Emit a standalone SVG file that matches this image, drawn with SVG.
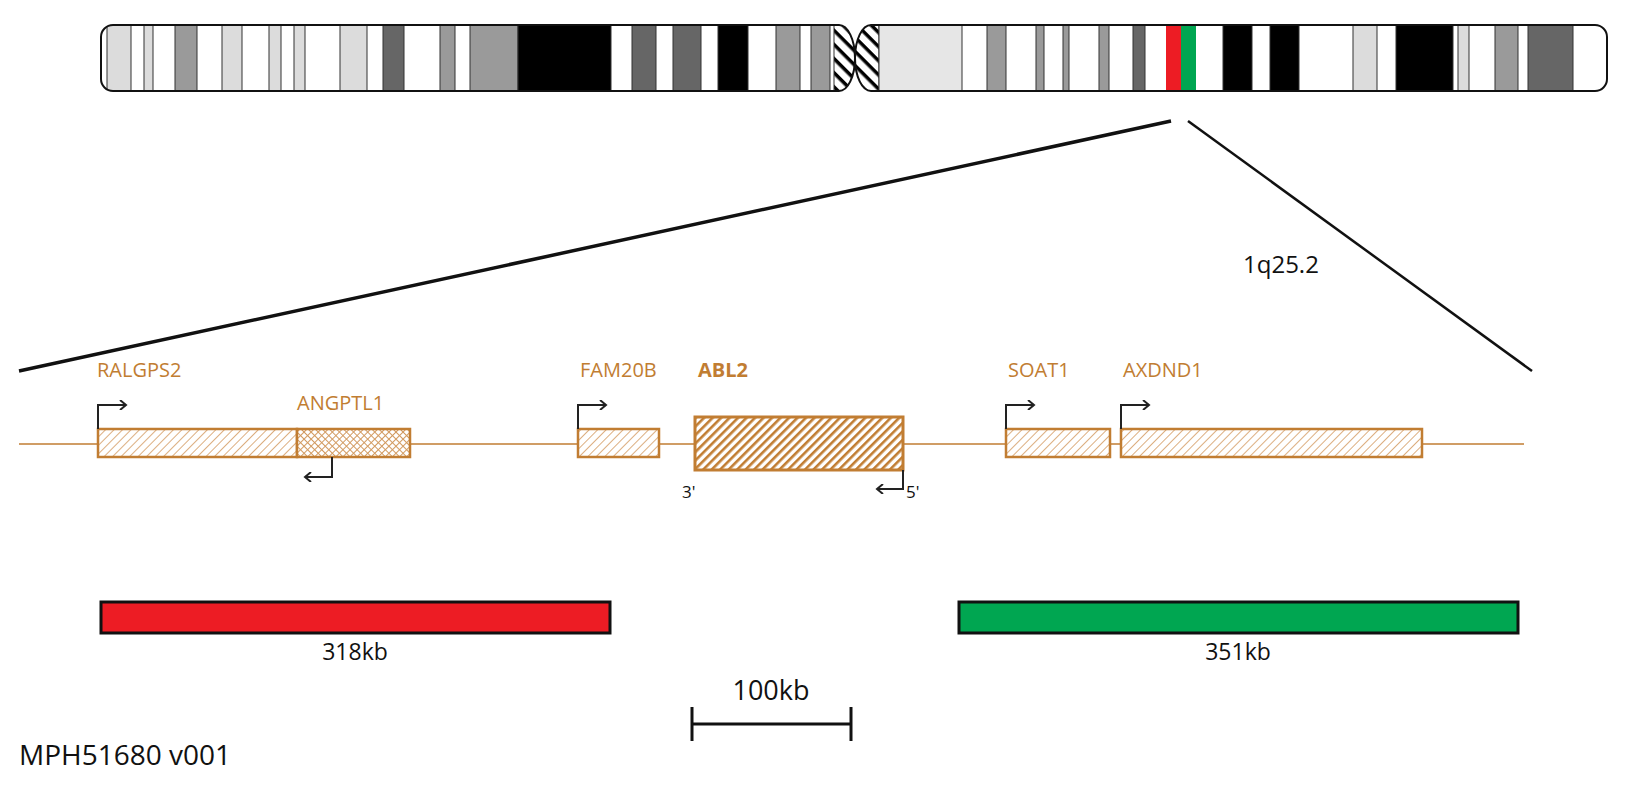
<svg xmlns="http://www.w3.org/2000/svg" width="1632" height="790" viewBox="0 0 1632 790">
<style>
.b{stroke:#333;stroke-width:1}
.W{fill:#fff}.L{fill:#dcdcdc}.VL{fill:#e6e6e6}.G{fill:#9a9a9a}.D{fill:#666}.K{fill:#000}
.gl{font-family:"Open Sans","Noto Sans",sans-serif;font-size:20px;fill:#c17d32}
.t{font-family:"Open Sans","Noto Sans",sans-serif;fill:#111}
.gene{stroke:#c17d32;stroke-width:2.5}
.arr{fill:none;stroke:#222;stroke-width:2}
</style>
<defs>
<clipPath id="pc"><path d="M113,25 H839 A16,33 0 0 1 839,91 H113 A12,12 0 0 1 101,79 V37 A12,12 0 0 1 113,25 Z"/></clipPath>
<clipPath id="qc"><path d="M871,25 H1595 A12,12 0 0 1 1607,37 V79 A12,12 0 0 1 1595,91 H871 A16,33 0 0 1 871,25 Z"/></clipPath>
<pattern id="cen" width="10" height="10" patternUnits="userSpaceOnUse" patternTransform="rotate(45)"><rect width="10" height="10" fill="#fff"/><rect width="10" height="3.5" fill="#000"/></pattern>
<pattern id="h1" width="6" height="6" patternUnits="userSpaceOnUse" patternTransform="rotate(45)"><rect width="6" height="6" fill="#fff"/><rect width="1" height="6" fill="#dcae80"/></pattern>
<pattern id="h2" width="5" height="5" patternUnits="userSpaceOnUse" patternTransform="rotate(45)"><rect width="5" height="5" fill="#fff"/><rect width="1" height="5" fill="#d29a60"/><rect width="5" height="1" fill="#d29a60"/></pattern>
<pattern id="h3" width="6" height="6" patternUnits="userSpaceOnUse" patternTransform="rotate(45)"><rect width="6" height="6" fill="#fff"/><rect width="2.6" height="6" fill="#c17d32"/></pattern>
<marker id="ah" markerWidth="10" markerHeight="10" refX="8" refY="5" orient="auto" markerUnits="userSpaceOnUse"><path d="M2,0 L8,5 L2,10" fill="none" stroke="#222" stroke-width="2"/></marker>
</defs>

<g id="chromosome">
<g clip-path="url(#pc)">
<rect x="95" y="20" width="765" height="76" class="W"/>
<g class="b">
<rect x="107" y="25" width="24" height="66" class="L"/>
<rect x="144" y="25" width="9" height="66" class="L"/>
<rect x="175" y="25" width="22" height="66" class="G"/>
<rect x="222" y="25" width="20" height="66" class="L"/>
<rect x="269" y="25" width="12" height="66" class="L"/>
<rect x="294" y="25" width="11" height="66" class="L"/>
<rect x="340" y="25" width="27" height="66" class="L"/>
<rect x="383" y="25" width="21" height="66" class="D"/>
<rect x="440" y="25" width="15" height="66" class="G"/>
<rect x="470" y="25" width="48" height="66" class="G"/>
<rect x="518" y="25" width="93" height="66" class="K"/>
<rect x="632" y="25" width="24" height="66" class="D"/>
<rect x="673" y="25" width="28" height="66" class="D"/>
<rect x="718" y="25" width="30" height="66" class="K"/>
<rect x="776" y="25" width="24" height="66" class="G"/>
<rect x="811" y="25" width="19" height="66" class="G"/>
<rect x="834" y="20" width="30" height="76" fill="url(#cen)"/>
</g>
</g>
<path d="M113,25 H839 A16,33 0 0 1 839,91 H113 A12,12 0 0 1 101,79 V37 A12,12 0 0 1 113,25 Z" fill="none" stroke="#111" stroke-width="2"/>
<g clip-path="url(#qc)">
<rect x="850" y="20" width="765" height="76" class="W"/>
<g class="b">
<rect x="850" y="20" width="29" height="76" fill="url(#cen)"/>
<rect x="879" y="25" width="83" height="66" class="VL"/>
<rect x="987" y="25" width="19" height="66" class="G"/>
<rect x="1036" y="25" width="8" height="66" class="G"/>
<rect x="1063" y="25" width="6" height="66" class="G"/>
<rect x="1099" y="25" width="10" height="66" class="G"/>
<rect x="1133" y="25" width="12" height="66" class="D"/>
<rect x="1166" y="25" width="15" height="66" fill="#ed1c24" stroke="none"/>
<rect x="1181" y="25" width="15" height="66" fill="#00a651" stroke="none"/>
<rect x="1223" y="25" width="29" height="66" class="K"/>
<rect x="1270" y="25" width="29" height="66" class="K"/>
<rect x="1353" y="25" width="24" height="66" class="L"/>
<rect x="1396" y="25" width="57" height="66" class="K"/>
<rect x="1458" y="25" width="11" height="66" class="L"/>
<rect x="1495" y="25" width="23" height="66" class="G"/>
<rect x="1528" y="25" width="45" height="66" class="D"/>
</g>
</g>
<path d="M871,25 H1595 A12,12 0 0 1 1607,37 V79 A12,12 0 0 1 1595,91 H871 A16,33 0 0 1 871,25 Z" fill="none" stroke="#111" stroke-width="2"/>
</g>

<g id="connectors">
<line x1="19" y1="371" x2="1171" y2="121" stroke="#111" stroke-width="3.5"/>
<line x1="1188" y1="121" x2="1532" y2="371" stroke="#111" stroke-width="2.5"/>
<line x1="19" y1="444" x2="1524" y2="444" stroke="#c17d32" stroke-width="1.5"/>
<line x1="692" y1="724" x2="851" y2="724" stroke="#111" stroke-width="3"/>
<line x1="692" y1="707" x2="692" y2="741" stroke="#111" stroke-width="3"/>
<line x1="851" y1="707" x2="851" y2="741" stroke="#111" stroke-width="3"/>
</g>

<text x="1243" y="273" class="t" font-size="24">1q25.2</text>

<g id="RALGPS2">
<rect x="98" y="429" width="199" height="28" fill="url(#h1)" class="gene"/>
<path d="M98,429 V405 H126" class="arr" marker-end="url(#ah)"/>
<text x="97" y="377" class="gl">RALGPS2</text>
</g>
<g id="ANGPTL1">
<rect x="297" y="429" width="113" height="28" fill="url(#h2)" class="gene"/>
<path d="M332,457 V477 H305" class="arr" marker-end="url(#ah)"/>
<text x="297" y="410" class="gl">ANGPTL1</text>
</g>
<g id="FAM20B">
<rect x="578" y="429" width="81" height="28" fill="url(#h1)" class="gene"/>
<path d="M578,429 V405 H606" class="arr" marker-end="url(#ah)"/>
<text x="580" y="377" class="gl">FAM20B</text>
</g>
<g id="ABL2">
<rect x="695" y="417" width="208" height="53" fill="url(#h3)" stroke="#c17d32" stroke-width="3"/>
<path d="M903,470 V489 H877" class="arr" marker-end="url(#ah)"/>
<text x="698" y="377" class="gl" font-weight="bold">ABL2</text>
<text x="682" y="498" class="t" font-size="17">3'</text>
<text x="906" y="498" class="t" font-size="17">5'</text>
</g>
<g id="SOAT1">
<rect x="1006" y="429" width="104" height="28" fill="url(#h1)" class="gene"/>
<path d="M1006,429 V405 H1034" class="arr" marker-end="url(#ah)"/>
<text x="1008" y="377" class="gl">SOAT1</text>
</g>
<g id="AXDND1">
<rect x="1121" y="429" width="301" height="28" fill="url(#h1)" class="gene"/>
<path d="M1121,429 V405 H1149" class="arr" marker-end="url(#ah)"/>
<text x="1123" y="377" class="gl">AXDND1</text>
</g>

<g id="probe-red">
<rect x="101" y="602" width="509" height="31" fill="#ed1c24" stroke="#111" stroke-width="3"/>
<text x="355" y="660" class="t" font-size="23" text-anchor="middle">318kb</text>
</g>
<g id="probe-green">
<rect x="959" y="602" width="559" height="31" fill="#00a651" stroke="#111" stroke-width="3"/>
<text x="1238" y="660" class="t" font-size="23" text-anchor="middle">351kb</text>
</g>
<text x="771" y="700" class="t" font-size="27" text-anchor="middle">100kb</text>
<text x="19" y="765" class="t" font-size="28">MPH51680 v001</text>
</svg>
